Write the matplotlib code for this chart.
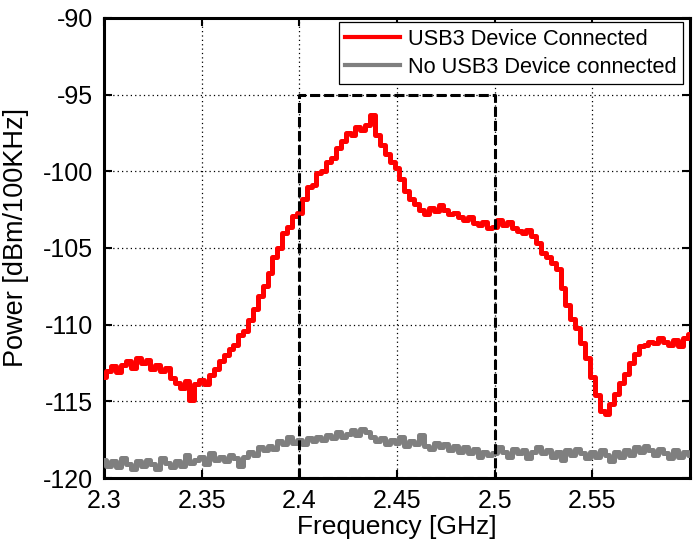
#!/usr/bin/env python3
"""Spectrum with and without a USB3 device connected (2.4 GHz band)."""

import matplotlib

matplotlib.use("Agg")
import matplotlib.pyplot as plt  # noqa: E402
import numpy as np  # noqa: E402

# --------------------------------------------------------------------------- #
# Data (2.5 MHz spacing)
# --------------------------------------------------------------------------- #
freq_start, freq_step = 2.3, 0.0025

power_usb3 = [
    -113.4, -113.0, -112.7, -113.1, -112.6, -112.4, -112.8, -112.2, -112.5, -112.3,
    -112.9, -112.6, -113.0, -112.8, -113.5, -113.8, -114.1, -113.7, -114.9, -113.9,
    -113.6, -113.9, -113.3, -112.9, -112.4, -112.0, -111.6, -111.3, -110.7, -110.4,
    -109.7, -109.0, -108.1, -107.5, -106.6, -105.6, -105.0, -104.0, -103.6, -102.9,
    -102.7, -101.8, -101.0, -100.9, -100.1, -100.0, -99.4, -99.1, -98.5, -98.0,
    -97.5, -97.6, -97.1, -97.3, -97.0, -96.3, -97.6, -98.3, -98.9, -99.4,
    -99.8, -100.5, -101.3, -101.8, -102.1, -102.5, -102.8, -102.4, -102.6, -102.2,
    -102.5, -102.8, -102.7, -103.0, -103.2, -103.0, -103.4, -103.5, -103.3, -103.7,
    -103.6, -103.2, -103.5, -103.3, -103.7, -103.9, -104.0, -103.8, -104.2, -104.7,
    -105.3, -105.6, -106.0, -106.4, -107.6, -108.7, -109.6, -110.2, -111.2, -112.2,
    -113.4, -114.6, -115.6, -115.8, -115.2, -114.5, -113.8, -113.2, -112.5, -111.9,
    -111.4, -111.3, -111.1, -111.2, -110.9, -111.1, -111.3, -111.0, -111.4, -110.9,
    -110.6,
]

power_none = [
    -118.8, -119.2, -118.9, -119.3, -118.7, -119.1, -119.4, -118.9, -119.2, -118.8,
    -119.1, -119.4, -118.7, -119.0, -119.3, -118.9, -119.2, -118.5, -119.0, -118.8,
    -118.6, -119.1, -118.4, -118.8, -118.6, -118.9, -118.5, -118.7, -119.2, -118.6,
    -118.3, -118.5, -118.0, -118.2, -117.9, -118.1, -117.6, -117.8, -117.3, -117.7,
    -117.5, -117.8, -117.4, -117.6, -117.3, -117.5, -117.2, -117.4, -117.0, -117.3,
    -117.1, -116.9, -117.2, -116.8, -117.0, -117.3, -117.6, -117.4, -117.8, -117.5,
    -117.7, -117.3, -117.9, -117.6, -117.8, -117.2, -117.9, -118.1, -117.7, -118.0,
    -117.8, -118.2, -117.9, -118.3, -118.0, -118.4, -118.1, -118.6, -118.3, -118.5,
    -118.4, -118.0, -118.3, -118.6, -118.1, -118.4, -118.2, -118.7, -118.3, -118.0,
    -118.4, -118.2, -118.6, -118.3, -118.8, -118.2, -118.5, -118.1, -118.4, -118.7,
    -118.3, -118.6, -118.2, -118.5, -118.9, -118.3, -118.6, -118.2, -118.5, -118.0,
    -118.3, -117.9, -118.2, -118.5, -118.1, -118.4, -118.7, -118.2, -118.6, -118.3,
    -118.5,
]

labels = ["USB3 Device Connected", "No USB3 Device connected"]
x_ticks = [2.3, 2.35, 2.4, 2.45, 2.5, 2.55]
x_tick_labels = ["2.3", "2.35", "2.4", "2.45", "2.5", "2.55"]
y_ticks = [-120, -115, -110, -105, -100, -95, -90]

# Highlighted 2.4 GHz WiFi band
band_x = [2.4, 2.5]
band_y = [-120, -95]


def main() -> None:
    plt.rcParams["font.family"] = ["Liberation Sans", "DejaVu Sans"]
    plt.rcParams["axes.unicode_minus"] = False  # MATLAB-style hyphen minus

    freq = freq_start + freq_step * np.arange(len(power_usb3))

    fig = plt.figure(figsize=(7.0, 5.53), dpi=100)
    ax = fig.add_axes([0.1486, 0.1356, 0.8371, 0.8319])

    ax.plot(freq, power_usb3, color="#ff0000", lw=3.6, drawstyle="steps-mid",
            label=labels[0], zorder=3)
    ax.plot(freq, power_none, color="#7f7f7f", lw=3.6, drawstyle="steps-mid",
            label=labels[1], zorder=3)

    bx = [band_x[0], band_x[0], band_x[1], band_x[1], band_x[0]]
    by = [band_y[0], band_y[1], band_y[1], band_y[0], band_y[0]]
    ax.plot(bx, by, color="black", lw=2.2, ls=(0, (3.3, 1.3)), zorder=4)

    ax.set_xlim(2.3, 2.6)
    ax.set_ylim(-120, -90)
    ax.set_xticks(x_ticks)
    ax.set_xticklabels(x_tick_labels)
    ax.set_yticks(y_ticks)
    ax.grid(True, color="black", ls=(0, (1, 2.5)), lw=0.9)

    ax.tick_params(direction="in", length=6, width=1.5, top=True, right=True,
                   labelsize=18, pad=8)
    for s in ax.spines.values():
        s.set_linewidth(2.2)

    ax.set_xlabel("Frequency [GHz]", fontsize=19, labelpad=1)
    ax.set_ylabel("Power [dBm/100KHz]", fontsize=19.5)
    ax.yaxis.set_label_coords(-0.128, 0.523)

    leg = ax.legend(loc="upper right", bbox_to_anchor=(0.988, 0.991),
                    borderaxespad=0, fontsize=15.7, handlelength=2.5,
                    handletextpad=0.37, labelspacing=0.33, borderpad=0.3,
                    fancybox=False, framealpha=1, edgecolor="black")
    leg.get_frame().set_linewidth(0.9)
    for h in leg.get_lines():
        h.set_linewidth(3.0)

    fig.savefig("out.png", dpi=100)
    plt.close(fig)


if __name__ == "__main__":
    main()
